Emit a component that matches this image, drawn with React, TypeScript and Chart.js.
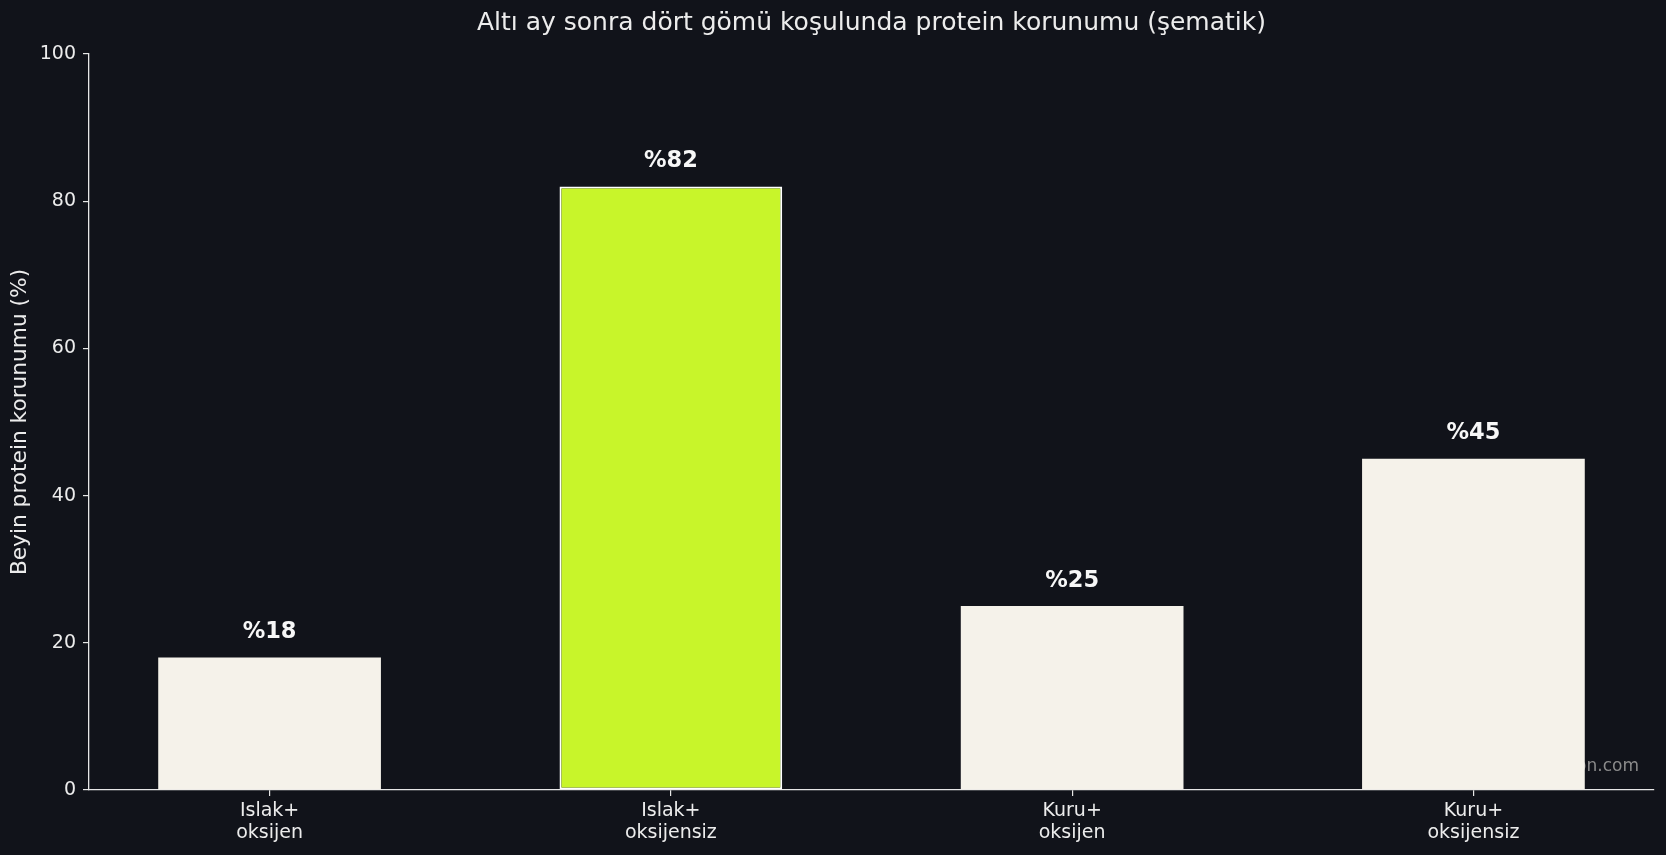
import Chart from "chart.js/auto";
import { useEffect, useRef } from "react";

const categories: string[][] = [
  ["Islak+", "oksijen"],
  ["Islak+", "oksijensiz"],
  ["Kuru+", "oksijen"],
  ["Kuru+", "oksijensiz"],
];
const preservation: number[] = [18, 82, 25, 45];
const highlightIndex = 1;
const yTicks: number[] = [0, 20, 40, 60, 80, 100];

const BG = "#11131a";
const CREAM = "#f5f2ea";
const LIME = "#c8f52a";
const SPINE = "#e6e6e6";
const TEXT = "#ececec";
const FONT = "'DejaVu Sans', Verdana, sans-serif";

export default function App() {
  const ref = useRef<HTMLCanvasElement | null>(null);

  useEffect(() => {
    document.body.style.margin = "0";
    document.body.style.background = BG;
    if (!ref.current) return;
    const ctx = ref.current.getContext("2d");
    if (!ctx) return;

    const chart = new Chart(ctx, {
      type: "bar",
      data: {
        datasets: [
          {
            data: preservation.map((v, i) => ({ x: i, y: v })),
            backgroundColor: preservation.map((_, i) => (i === highlightIndex ? LIME : CREAM)),
            borderColor: preservation.map((_, i) => (i === highlightIndex ? "#ffffff" : CREAM)),
            borderWidth: preservation.map((_, i) => (i === highlightIndex ? 2 : 0)),
            borderSkipped: false,
            categoryPercentage: 1,
            barPercentage: 0.555,
          },
        ],
      },
      options: {
        responsive: false,
        animation: false,
        layout: { padding: { top: 54, right: 12, left: 0, bottom: 0 } },
        plugins: {
          legend: { display: false },
          tooltip: { enabled: false },
        },
        scales: {
          x: {
            type: "linear",
            min: -0.45,
            max: 3.45,
            offset: false,
            z: 1,
            afterBuildTicks: (scale: any) => {
              scale.ticks = categories.map((_, i) => ({ value: i }));
            },
            afterFit: (scale: any) => {
              scale.height = 65;
            },
            grid: {
              display: true,
              offset: false,
              drawOnChartArea: false,
              drawTicks: true,
              tickLength: 6,
              color: SPINE,
              lineWidth: 1.2,
            },
            border: { display: true, color: SPINE, width: 1.3 },
            ticks: {
              color: TEXT,
              padding: 4,
              autoSkip: false,
              maxRotation: 0,
              font: { family: FONT, size: 19, lineHeight: 1.15 },
              callback: (value: any) => categories[Math.round(Number(value))] ?? "",
            },
          },
          y: {
            min: 0,
            max: 100,
            afterBuildTicks: (scale: any) => {
              scale.ticks = yTicks.map((v) => ({ value: v }));
            },
            afterFit: (scale: any) => {
              scale.width = 89;
            },
            grid: {
              display: true,
              drawOnChartArea: false,
              drawTicks: true,
              tickLength: 6,
              color: SPINE,
              lineWidth: 1.2,
            },
            border: { display: true, color: SPINE, width: 1.3 },
            ticks: {
              color: TEXT,
              padding: 7,
              font: { family: FONT, size: 19 },
            },
          },
        },
      },
      plugins: [
        {
          id: "decor",
          beforeDraw: (c: any) => {
            const g = c.ctx;
            g.save();
            g.fillStyle = BG;
            g.fillRect(0, 0, c.width, c.height);
            g.restore();
          },
          beforeDatasetsDraw: (c: any) => {
            // watermark, mostly hidden behind the last bar
            const g = c.ctx;
            g.save();
            g.font = `17px ${FONT}`;
            g.fillStyle = "#8a8a8a";
            g.textAlign = "right";
            g.textBaseline = "middle";
            g.fillText("on.com", 1639, 767);
            g.restore();
          },
          afterDatasetsDraw: (c: any) => {
            const g = c.ctx;
            const area = c.chartArea;
            g.save();
            // value labels
            const meta = c.getDatasetMeta(0);
            g.font = `bold 22.5px ${FONT}`;
            g.fillStyle = "#f7f7f7";
            g.textAlign = "center";
            g.textBaseline = "alphabetic";
            meta.data.forEach((bar: any, i: number) => {
              g.fillText(`%${preservation[i]}`, bar.x, bar.y - 19.5);
            });
            // title
            g.font = `25px ${FONT}`;
            g.fillStyle = TEXT;
            g.textBaseline = "middle";
            g.fillText(
              "Altı ay sonra dört gömü koşulunda protein korunumu (şematik)",
              (area.left + area.right) / 2,
              23
            );
            // y axis title
            g.translate(20, (area.top + area.bottom) / 2);
            g.rotate(-Math.PI / 2);
            g.font = `21.7px ${FONT}`;
            g.fillText("Beyin protein korunumu (%)", 0, 0);
            g.restore();
          },
        },
      ],
    });

    return () => chart.destroy();
  }, []);

  return (
    <div style={{ width: 1666, height: 855, background: BG }}>
      <canvas ref={ref} width={1666} height={855} />
    </div>
  );
}
